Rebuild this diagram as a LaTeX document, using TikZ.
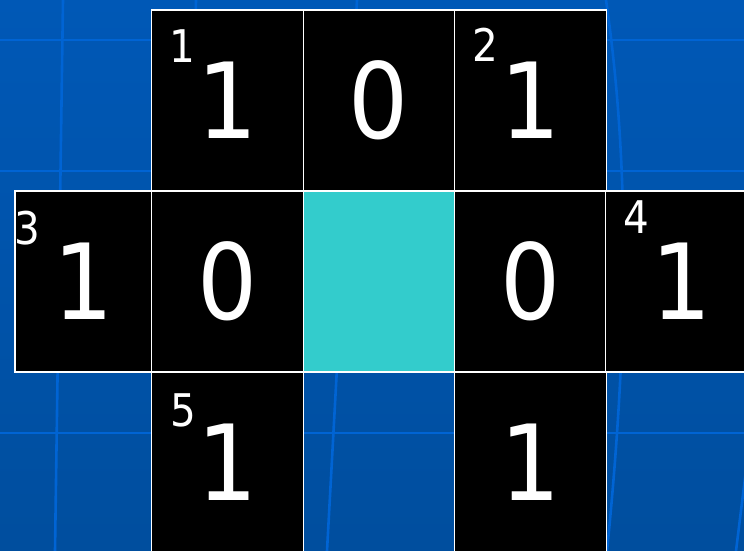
\documentclass[tikz,border=0pt]{standalone}
\usepackage{fontspec}
\setmainfont{DejaVu Sans Condensed}
\usepackage{tikz}
\usetikzlibrary{positioning}
\definecolor{slidebg}{HTML}{0058B6}
\definecolor{slidebgdark}{HTML}{004E9E}
\definecolor{gridline}{HTML}{0064D4}
\definecolor{hole}{HTML}{33CCCC}
\tikzset{
  cell/.style={draw=white, line width=1.3pt, fill=black, text=white, minimum width=151.5pt, minimum height=181pt, inner sep=0pt, outer sep=0pt, font=\fontsize{105}{105}\selectfont},
  gap/.style={cell, fill=hole},
  tag/.style={text=white, inner sep=0pt, font=\fontsize{45}{45}\selectfont},
  bgline/.style={draw=gridline, line width=2.6pt}
}

\begin{document}
\begin{tikzpicture}[x=1pt, y=-1pt]
  \shade[top color=slidebg, bottom color=slidebgdark] (0,0) rectangle (744,551);
  \useasboundingbox (0,0) rectangle (744,551);
  \clip (0,0) rectangle (744,551);

  % slide background lines
  \draw[bgline] (0,40) -- (744,40);
  \draw[bgline] (0,171) -- (744,171);
  \draw[bgline] (0,433) -- (744,433);
  \draw[bgline] (63,0) -- (55,551);
  \draw[bgline] (196,0) -- (186,551);
  \draw[bgline] (357,0) -- (327,551);
  \draw[bgline] (606,0) .. controls (632,180) and (626,360) .. (607,551);
  \draw[bgline] (746,470) -- (736,551);

  % cells
  \node[cell] (t1) at (227.5,100.5) {1};
  \node[cell] (t2) at (379,100.5) {0};
  \node[cell] (t3) at (530.5,100.5) {1};
  \node[cell, minimum width=137pt] (m0) at (83.5,281.5) {1};
  \node[cell] (m1) at (227.5,281.5) {0};
  \node[gap] (m2) at (379,281.5) {};
  \node[cell] (m3) at (530.5,281.5) {0};
  \node[cell] (m4) at (681.5,281.5) {1};
  \node[cell] (b1) at (227.5,462.5) {1};
  \node[cell] (b3) at (530.5,462.5) {1};

  % numbering
  \node[tag] (k1) at (182,46) {1};
  \node[tag] (k2) at (485,45) {2};
  \node[tag] (k3) at (27,228) {3};
  \node[tag] (k4) at (636,217) {4};
  \node[tag] (k5) at (183,410) {5};
\end{tikzpicture}
\end{document}
